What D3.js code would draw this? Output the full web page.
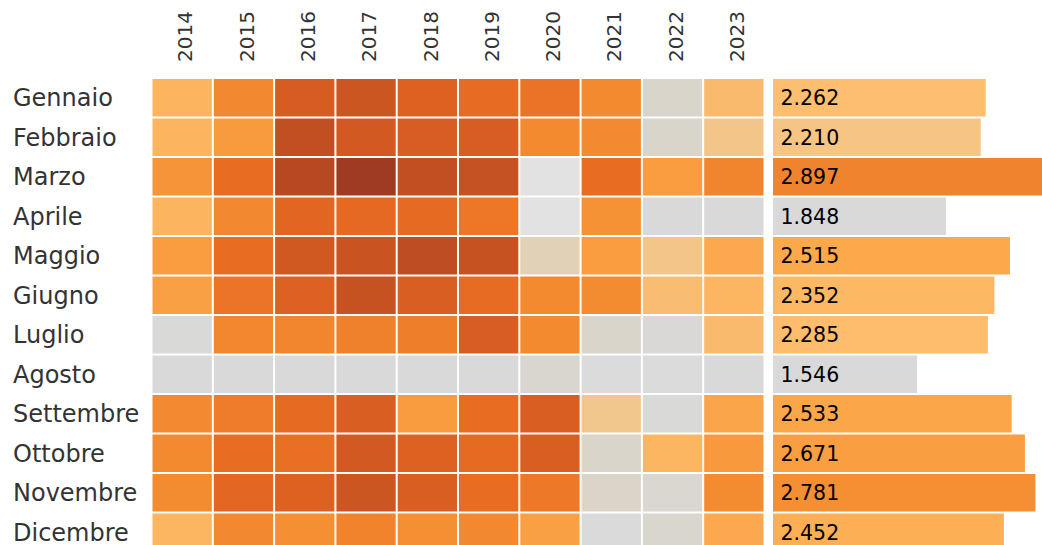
<!DOCTYPE html>
<html>
<head>
<meta charset="utf-8">
<script src="https://cdn.jsdelivr.net/npm/d3@7"></script>
<style>
  body { margin: 0; background: #fff; }
  svg { display: block; font-family: "DejaVu Sans", sans-serif; }
</style>
</head>
<body>
<svg id="chart" width="1042" height="545"></svg>
<script>
var years = ["2014","2015","2016","2017","2018","2019","2020","2021","2022","2023"];
var months = ["Gennaio","Febbraio","Marzo","Aprile","Maggio","Giugno","Luglio","Agosto","Settembre","Ottobre","Novembre","Dicembre"];

// monthly values per year (one array per month, 2014..2023)
var gennaio   = [200, 232, 283, 295, 275, 262, 252, 230, 150, 195];
var febbraio  = [200, 217, 308, 287, 281, 282, 230, 231, 148, 186];
var marzo     = [222, 260, 316, 330, 308, 303,  60, 260, 215, 235];
var aprile    = [200, 232, 270, 266, 264, 248,  55, 224, 120, 118];
var maggio    = [215, 260, 290, 298, 311, 302, 170, 215, 186, 208];
var giugno    = [213, 250, 276, 302, 280, 262, 230, 229, 193, 199];
var luglio    = [122, 233, 234, 238, 241, 281, 230, 149, 125, 195];
var agosto    = [120, 120, 120, 120, 120, 120, 140, 110, 110, 118];
var settembre = [231, 243, 264, 280, 216, 261, 280, 184, 122, 210];
var ottobre   = [230, 261, 258, 288, 275, 264, 280, 150, 199, 218];
var novembre  = [229, 269, 275, 295, 280, 261, 246, 152, 138, 229];
var dicembre  = [199, 232, 226, 236, 226, 232, 213, 115, 145, 208];

var totals = [2262, 2210, 2897, 1848, 2515, 2352, 2285, 1546, 2533, 2671, 2781, 2452];

var rows = [gennaio, febbraio, marzo, aprile, maggio, giugno, luglio, agosto, settembre, ottobre, novembre, dicembre];

function main() {
  var svg = d3.select("#chart");

  var x = d3.scaleBand().domain(years).range([152.5, 765.5]);
  var y = d3.scaleBand().domain(months).range([79, 79 + 39.5 * 12]);

  var color = d3.scaleLinear()
    .domain([60, 120, 150, 170, 185, 200, 215, 230, 250, 265, 280, 295, 310, 330])
    .range(["#e2e2e2", "#d9d9d9", "#d9d5ca", "#e1d1b6", "#f3c68b", "#fdb45e", "#f99d40",
            "#f38a30", "#ec7426", "#e66a22", "#d95e22", "#cb5622", "#c04e22", "#9e3b22"])
    .clamp(true);

  var barColor = d3.scaleLinear()
    .domain([1850, 2200, 2260, 2360, 2520, 2680, 2780, 2900])
    .range(["#d9d9d9", "#f4c688", "#fdbe6f", "#fdb862", "#fba84a", "#f99d40", "#f58f34", "#f0832e"])
    .clamp(true);

  var cells = [];
  rows.forEach(function(r, i) {
    r.forEach(function(v, j) { cells.push({ month: months[i], year: years[j], value: v }); });
  });

  svg.append("g").selectAll("rect")
    .data(cells)
    .enter().append("rect")
    .attr("x", function(d) { return x(d.year); })
    .attr("y", function(d) { return y(d.month); })
    .attr("width", x.bandwidth() - 2)
    .attr("height", y.bandwidth() - 2)
    .attr("fill", function(d) { return color(d.value); });

  // year headers
  svg.append("g").selectAll("text")
    .data(years)
    .enter().append("text")
    .attr("transform", function(d) { return "translate(" + (x(d) + x.bandwidth() / 2 + 2) + ",62) rotate(-90)"; })
    .attr("dy", "0.36em")
    .attr("text-anchor", "start")
    .attr("font-size", "20px")
    .attr("fill", "#333")
    .text(function(d) { return d; });

  // month labels
  svg.append("g").selectAll("text")
    .data(months)
    .enter().append("text")
    .attr("x", 13)
    .attr("y", function(d) { return y(d) + y.bandwidth() / 2 - 1; })
    .attr("dy", "0.36em")
    .attr("font-size", "24px")
    .attr("fill", "#333")
    .text(function(d) { return d; });

  // totals bars
  var xb = d3.scaleLinear().domain([0, 3000]).range([769, 1056.4]);
  var fmt = function(v) { return d3.format(",")(v).replace(",", "."); };

  var bars = svg.append("g").selectAll("g")
    .data(months)
    .enter().append("g");

  bars.append("rect")
    .attr("x", 773)
    .attr("y", function(d) { return y(d); })
    .attr("width", function(d, i) { return xb(totals[i]) - 773; })
    .attr("height", y.bandwidth() - 2)
    .attr("fill", function(d, i) { return barColor(totals[i]); });

  bars.append("text")
    .attr("x", 780.5)
    .attr("y", function(d) { return y(d) + y.bandwidth() / 2 - 1; })
    .attr("dy", "0.36em")
    .attr("font-size", "20.5px")
    .attr("fill", "#000")
    .text(function(d, i) { return fmt(totals[i]); });
}

main();
</script>
</body>
</html>
